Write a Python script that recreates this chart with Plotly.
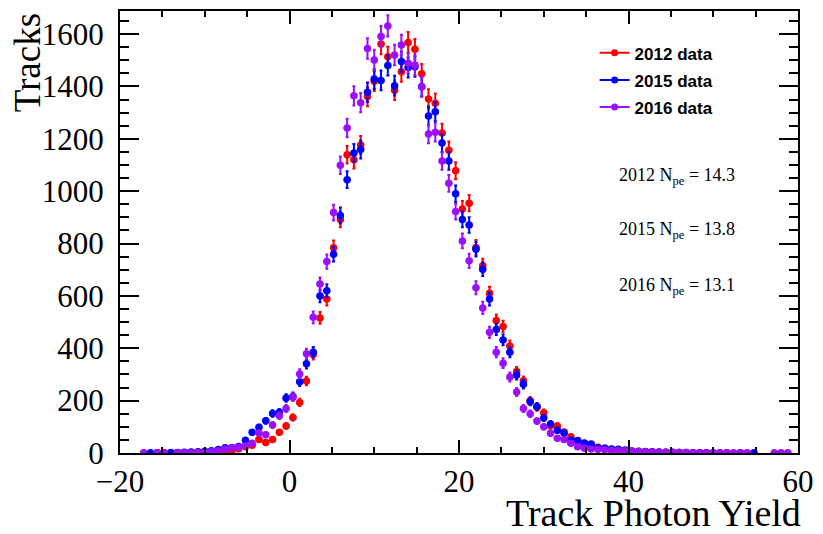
import numpy as np
import plotly.graph_objects as go

# Histogram binning: 100 bins from -20 to 60
bin_low, bin_high, n_bins = -20.0, 60.0, 100

counts_2012 = [
    None, None, None, None, None, 1, 1, None, 1, 1,
    2, 2, 3, 4, 5, 7, 10, 16, 24, 30,
    52, 40, 52, 79, 103, 136, 193, 275, 376, 516,
    588, 784, 892, 1139, 1120, 1176, 1361, 1420, 1562, 1513,
    1385, 1456, 1568, 1542, 1448, 1352, 1336, 1222, 1156, 1078,
    932, 954, 785, 715, 610, 506, 483, 409, 311, 276,
    200, 175, 154, 104, 103, 80, 62, 46, 38, 30,
    22, 18, 14, 11, 9, 7, 6, 5, 4, 3,
    3, 2, 2, 1, 1, 1, 1, None, 1, None,
    None, None, None, None, None, None, None, None, None, None,
]

counts_2015 = [
    None, None, None, None, 1, 1, 1, 2, 2, 3,
    4, 5, 7, 9, 13, 20, 21, 25, 49, 79,
    98, 123, 151, 156, 210, 216, 272, 341, 385, 600,
    620, 759, 907, 1044, 1146, 1159, 1378, 1428, 1423, 1480,
    1403, 1495, 1472, 1475, 1399, 1287, 1303, 1184, 1115, 990,
    892, 871, 778, 702, 588, 472, 432, 385, 298, 263,
    196, 178, 134, 111, 87, 76, 49, 48, 37, 34,
    20, 18, 15, 14, 11, 8, 7, 6, 5, 4,
    3, 3, 2, 2, 1, 1, 1, 1, None, 1,
    None, 1, None, 1, None, None, None, None, None, None,
]

counts_2016 = [
    None, None, None, 1, None, 1, 1, None, 1, 1,
    1, 2, 3, 5, 9, 15, 20, 22, 28, 37,
    76, 70, 107, 142, 170, 213, 302, 379, 518, 645,
    731, 918, 1099, 1241, 1364, 1338, 1545, 1501, 1591, 1631,
    1520, 1558, 1488, 1482, 1399, 1218, 1225, 1115, 1030, 922,
    810, 734, 631, 554, 461, 385, 343, 290, 233, 170,
    150, 122, 100, 75, 56, 52, 37, 24, 18, 15,
    14, 12, 10, 10, 9, 7, 6, 5, 4, 3,
    3, 2, 2, 2, 1, 1, 1, 1, 1, 1,
    1, 1, 1, None, None, None, 1, 1, 1, None,
]

series_names = ["2012 data", "2015 data", "2016 data"]
series_colors = ["#ff0000", "#0000ff", "#9a10ff"]
npe_labels = ["2012 N<sub>pe</sub> = 14.3", "2015 N<sub>pe</sub> = 13.8", "2016 N<sub>pe</sub> = 13.1"]

x_major_ticks = [-20, 0, 20, 40, 60]
y_major_ticks = [0, 200, 400, 600, 800, 1000, 1200, 1400, 1600]

edges = np.linspace(bin_low, bin_high, n_bins + 1)
centers = 0.5 * (edges[:-1] + edges[1:])
half_w = 0.5 * (edges[1] - edges[0])

fig = go.Figure()
for counts, name, color in zip([counts_2012, counts_2015, counts_2016], series_names, series_colors):
    xs, ys, es = [], [], []
    for c, v in zip(centers, counts):
        if v is None:
            continue
        xs.append(c)
        ys.append(v)
        es.append(float(np.sqrt(v)))
    fig.add_trace(go.Scatter(
        x=xs, y=ys, mode="markers", showlegend=False, name=name,
        marker=dict(color=color, size=7.5, symbol="circle", line=dict(width=0)),
        error_y=dict(type="data", array=es, visible=True, color=color, thickness=2, width=1.5),
        error_x=dict(type="constant", value=half_w, visible=True, color=color, thickness=2, width=0),
        cliponaxis=True,
    ))

# legend entries (line + marker)
for name, color in zip(series_names, series_colors):
    fig.add_trace(go.Scatter(
        x=[None], y=[None], mode="lines+markers", name=name, legendgroup=name,
        line=dict(color=color, width=2), marker=dict(color=color, size=7),
    ))

serif = "Liberation Serif, Times New Roman, serif"
axis_common = dict(
    showline=True, linecolor="black", linewidth=2, mirror="ticks",
    ticks="inside", tickcolor="black", tickwidth=2,
    showgrid=False, zeroline=False,
    tickfont=dict(family=serif, size=31, color="black"),
)

fig.update_layout(
    width=823, height=534,
    margin=dict(l=120, r=20, t=9, b=81),
    paper_bgcolor="white", plot_bgcolor="white",
    xaxis=dict(range=[bin_low, bin_high], tickvals=x_major_ticks, ticklen=13,
               minor=dict(dtick=5, tick0=0, ticklen=6, tickwidth=2, tickcolor="black", ticks="inside"),
               ticklabelstandoff=0, **axis_common),
    yaxis=dict(range=[0, 1688], tickvals=y_major_ticks, ticklen=19,
               minor=dict(dtick=50, tick0=0, ticklen=9, tickwidth=2, tickcolor="black", ticks="inside"),
               ticklabelstandoff=8, **axis_common),
    legend=dict(x=0.70, y=0.945, xanchor="left", yanchor="top",
                font=dict(family="Liberation Sans, Arial, sans-serif", size=17, color="black", weight="bold"),
                bgcolor="rgba(0,0,0,0)", tracegroupgap=2, itemwidth=30),
    showlegend=True,
)

annotations = [
    dict(text="Track Photon Yield", xref="paper", yref="paper", x=1.0, y=0, xanchor="right",
         yanchor="middle", yshift=-60, xshift=5, showarrow=False,
         font=dict(family=serif, size=38, color="black")),
    dict(text="Tracks", xref="paper", yref="paper", x=-0.136, y=1.0, xanchor="center",
         yanchor="top", textangle=-90, showarrow=False,
         font=dict(family=serif, size=37, color="black")),
]
npe_y = [1057, 848, 635]
for lbl, yv in zip(npe_labels, npe_y):
    annotations.append(dict(text=lbl, x=38.6, y=yv, xref="x", yref="y", xanchor="left",
                            yanchor="middle", showarrow=False,
                            font=dict(family=serif, size=18, color="black")))
fig.update_layout(annotations=annotations)

fig.write_html("out.html")
